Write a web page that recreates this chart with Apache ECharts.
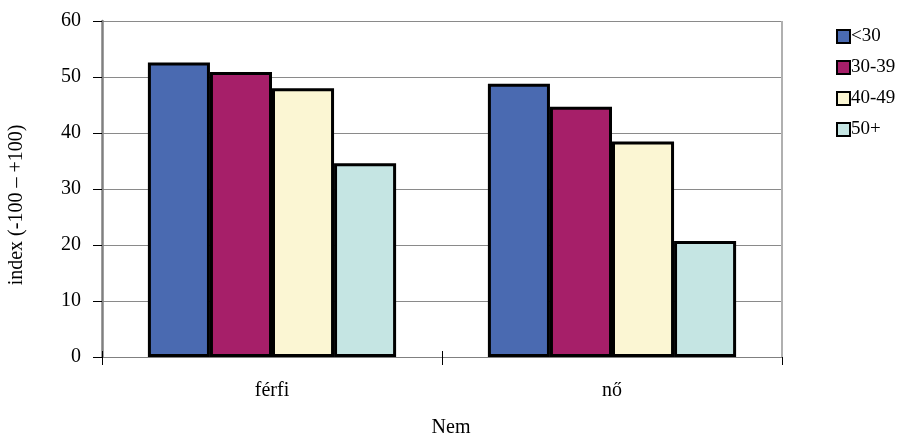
<!DOCTYPE html>
<html>
<head>
<meta charset="utf-8">
<script src="https://cdn.jsdelivr.net/npm/echarts@6/dist/echarts.min.js"></script>
<style>html,body{margin:0;padding:0;background:#fff}#c{width:900px;height:434px}</style>
</head>
<body>
<div id="c"></div>
<script>
const categories = ['férfi', 'nő'];
const seriesNames = ['<30', '30-39', '40-49', '50+'];
const vLt30 = [52.6, 48.8];
const v30_39 = [50.9, 44.7];
const v40_49 = [48.0, 38.5];
const v50p = [34.6, 20.7];
const yTicks = [0, 10, 20, 30, 40, 50, 60];

const colors = ['#4A6AB1', '#A61F69', '#FBF6D3', '#C5E5E3'];
const values = [vLt30, v30_39, v40_49, v50p];
const font = '"Liberation Serif", "Times New Roman", serif';

const chart = echarts.init(document.getElementById('c'));
chart.setOption({
  animation: false,
  textStyle: { fontFamily: font, color: '#000' },
  grid: { left: 102, right: 118, top: 21, bottom: 77, containLabel: false, outerBoundsMode: 'none' },
  legend: {
    orient: 'vertical', left: 831, top: 22, itemWidth: 13, itemHeight: 13, itemGap: 12,
    icon: 'rect',
    itemStyle: { borderColor: '#000', borderWidth: 2 },
    textStyle: { fontFamily: font, fontSize: 19, color: '#000', padding: [0, 0, 0, -4] },
    data: seriesNames
  },
  xAxis: [{
    type: 'category', data: categories,
    name: 'Nem', nameLocation: 'middle', nameGap: 61,
    nameTextStyle: { fontFamily: font, fontSize: 20, color: '#000', padding: [0, 0, 0, 18] },
    axisLine: { lineStyle: { color: '#808080', width: 1 } },
    axisTick: { show: true, length: 8, lineStyle: { color: '#000' } },
    axisLabel: { fontFamily: font, fontSize: 20, color: '#000', margin: 24 }
  }, {
    type: 'category', data: categories, position: 'bottom',
    axisLine: { show: false },
    axisTick: { show: true, inside: true, length: 6, lineStyle: { color: '#000' } },
    axisLabel: { show: false }
  }],
  yAxis: {
    type: 'value', min: 0, max: 60, interval: 10,
    name: 'index (-100 – +100)', nameLocation: 'middle', nameGap: 75, nameRotate: 90,
    nameTextStyle: { fontFamily: font, fontSize: 20, color: '#000', padding: [0, 32, 0, 0] },
    axisLine: { show: true, lineStyle: { color: '#808080', width: 2.5 } },
    axisTick: { show: true, length: 9, lineStyle: { color: '#000' } },
    axisLabel: { fontFamily: font, fontSize: 20, color: '#000', margin: 21,
      formatter: v => yTicks.includes(v) ? String(v) : '' },
    splitLine: { show: true, lineStyle: { color: '#8a8a8a', width: 1 } }
  },
  series: seriesNames.map((n, i) => ({
    name: n, type: 'bar', data: values[i],
    barGap: '0%', barCategoryGap: '27%',
    itemStyle: { color: colors[i], borderColor: '#000', borderWidth: 3 }
  })).concat([{
    type: 'line', data: [], markLine: {
      silent: true, symbol: 'none', label: { show: false },
      lineStyle: { color: '#b0b0b0', type: 'solid', width: 2 },
      data: [[{ coord: [1, 0], x: 782 }, { coord: [1, 60], x: 782 }]]
    }
  }])
});
</script>
</body>
</html>
